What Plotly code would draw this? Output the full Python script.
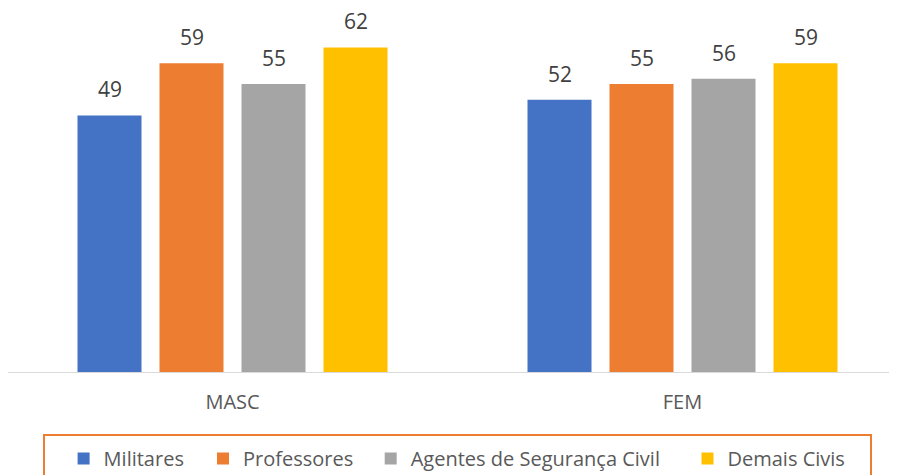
import plotly.graph_objects as go

categories = ["MASC", "FEM"]
series_names = ["Militares", "Professores", "Agentes de Segurança Civil", "Demais Civis"]
militares = [49, 52]
professores = [59, 55]
agentes = [55, 56]
demais_civis = [62, 59]

series_values = [militares, professores, agentes, demais_civis]
colors = ["#4472C4", "#ED7D31", "#A5A5A5", "#FFC000"]

# the page puts the figure 8px in from the corner, so size it to the visible area
OFF = 8
W, H = 897 - OFF, 475 - OFF
ml, mr, mt, mb = 0, 0, 0, 103
plot_w = W - ml - mr
plot_h = H - mt - mb
cat_px = 450  # pixels per category
slot_px = 82  # distance between bar centres in a group
px_per_unit = 5.235

# legend left edges (reference pixels), one legend per series
legend_left = [63.6, 203, 370.7, 687.5]
legend_names = ["legend", "legend2", "legend3", "legend4"]

fig = go.Figure()
for name, vals, col, lg in zip(series_names, series_values, colors, legend_names):
    fig.add_trace(go.Bar(x=categories, y=vals, name=name, legend=lg,
                         marker=dict(color=col, line=dict(width=0))))

# data labels above the bars
annotations = []
for i, vals in enumerate(series_values):
    for cat, v in zip(categories, vals):
        annotations.append(dict(
            x=cat, y=v, xref="x", yref="y", text=str(v), showarrow=False,
            xanchor="center", yanchor="bottom", xshift=(i - 1.5) * slot_px, yshift=11,
            borderpad=0, font=dict(family="Open Sans", size=21, color="#404040"),
        ))

x0 = -(232.5 - OFF - ml) / cat_px
x1 = x0 + plot_w / cat_px


def py(ref_y):
    # reference pixel y -> paper y
    return (mt + plot_h - (ref_y - OFF)) / plot_h


def px(ref_x):
    # reference pixel x -> paper x
    return (ref_x - OFF - ml) / plot_w


layout_legends = {}
for lg, left in zip(legend_names, legend_left):
    layout_legends[lg] = dict(
        orientation="h", x=px(left), y=py(439), xanchor="left", yanchor="top",
        font=dict(family="Open Sans", size=20, color="#595959"),
        bgcolor="rgba(0,0,0,0)", borderwidth=0,
    )

fig.update_layout(
    width=W, height=H,
    margin=dict(l=ml, r=mr, t=mt, b=mb, autoexpand=False),
    paper_bgcolor="white", plot_bgcolor="white",
    barmode="group", bargap=1 - 4 * slot_px / cat_px, bargroupgap=1 - 64 / slot_px,
    font=dict(family="Open Sans", color="#595959"),
    showlegend=True,
    xaxis=dict(
        range=[x0, x1], showline=True, linecolor="#D9D9D9", linewidth=1,
        showgrid=False, ticks="", ticklabelstandoff=12,
        tickfont=dict(family="Open Sans", size=20, color="#595959"),
    ),
    yaxis=dict(range=[0, plot_h / px_per_unit], showgrid=False, zeroline=False,
               showticklabels=False, showline=False),
    annotations=annotations,
    shapes=[dict(
        type="rect", xref="paper", yref="paper",
        x0=px(44), x1=px(871), y0=py(495), y1=py(435),
        line=dict(color="#ED7D31", width=2), fillcolor="rgba(0,0,0,0)",
    )],
    **layout_legends,
)

fig.write_html("out.html")
